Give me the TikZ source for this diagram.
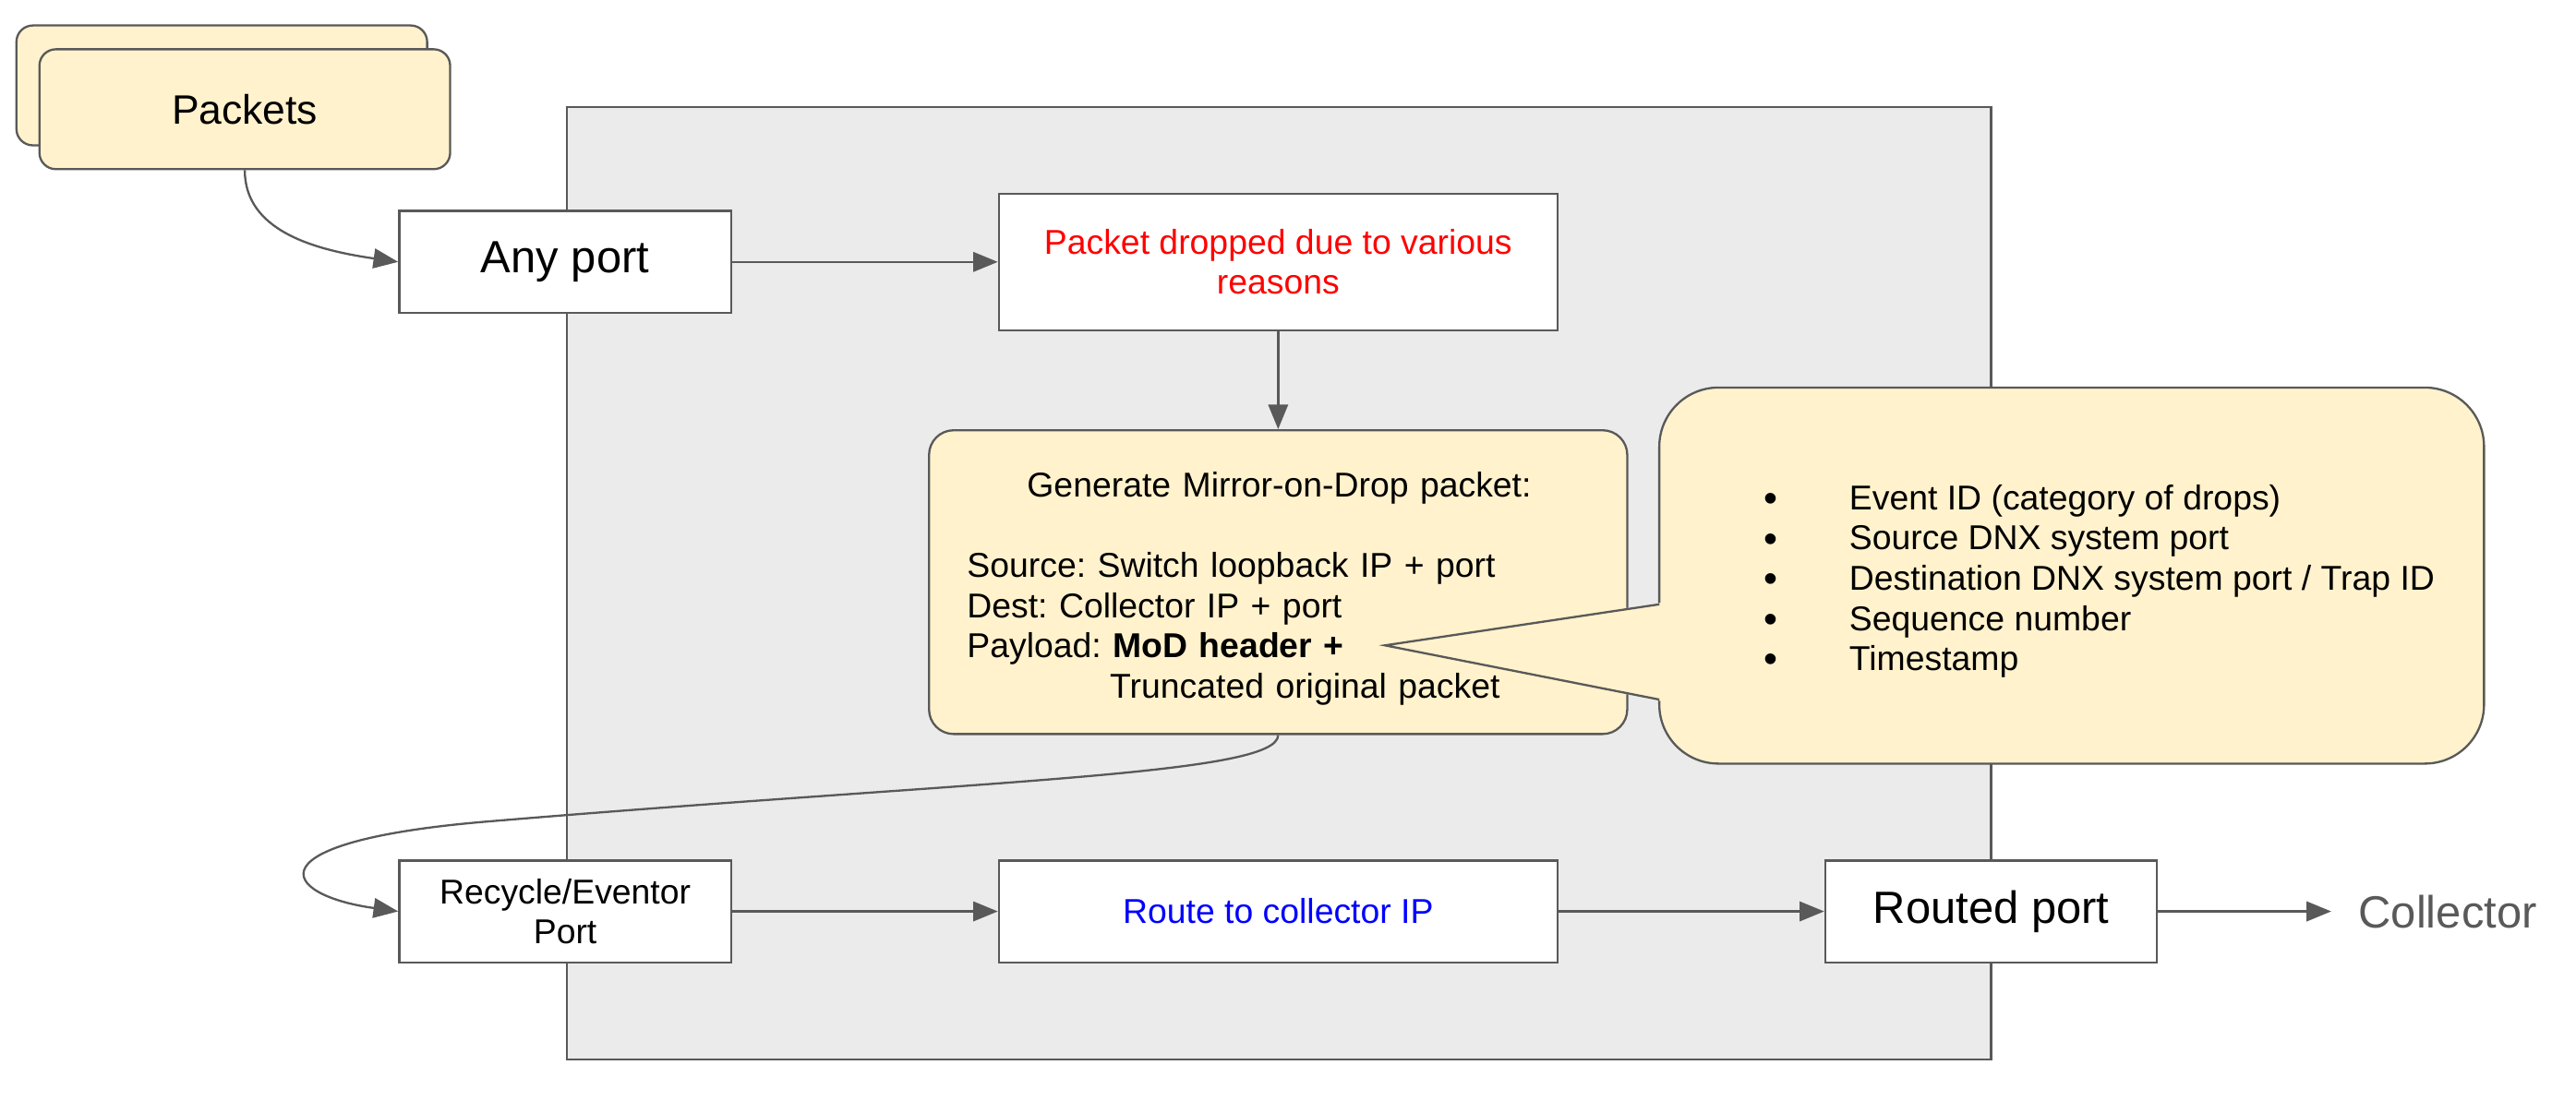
\documentclass[tikz,border=0pt]{standalone}
\usepackage{fontspec}
\setmainfont{Liberation Sans}
\frenchspacing
\usetikzlibrary{arrows.meta}
\definecolor{linegray}{HTML}{595959}
\definecolor{boxyellow}{HTML}{FFF2CC}
\definecolor{areagray}{HTML}{EBEBEB}
\newcommand{\fieldbullet}{\makebox[52pt][l]{\raisebox{-1.2pt}{\fontsize{24}{24}\selectfont •}}}
\tikzset{
  flowarrow/.style={draw=linegray,-{Triangle[length=15pt,width=12pt]}},
  bigfont/.style={font=\fontsize{27.5}{32}\selectfont},
  smallfont/.style={font=\fontsize{21}{24.5}\selectfont}
}
\begin{document}
\begin{tikzpicture}[x=1pt,y=-1pt,line width=1.3pt]
        \useasboundingbox (0,0) rectangle (1568,670);

        \filldraw[fill=areagray,draw=linegray] (345,65) rectangle (1212,645);

        \begin{scope}[every node/.style={draw=linegray,fill=boxyellow,rounded corners=10pt,
            minimum width=250pt,minimum height=73pt,font=\fontsize{25}{29}\selectfont}]
          \node (pktback) at (135,52)   {};
          \node (pkt)     at (149,66.5) {Packets};
        \end{scope}

        \begin{scope}[every node/.style={draw=linegray,fill=white,minimum height=62pt,align=center,smallfont}]
          \node[minimum width=202pt,bigfont]           (any)     at (344,159.5)  {Any port};
          \node[minimum width=340pt,minimum height=83pt,text=red]
                                                       (drop)    at (778,159.5)  {Packet dropped due to various\\reasons};
          \node[minimum width=202pt]                   (recycle) at (344,555)    {Recycle/Eventor\\Port};
          \node[minimum width=340pt,text=blue]         (route)   at (778,555)    {Route to collector IP};
          \node[minimum width=202pt,bigfont]           (routed)  at (1212,555)   {Routed port};
        \end{scope}

        \node[draw=linegray,fill=boxyellow,rounded corners=15pt,minimum width=425pt,minimum height=185pt]
          (mod) at (778,354.5) {};
        \node[anchor=west,align=left,text width=380pt,inner sep=0pt,smallfont] (modtext) at (588,358.5)
          {\makebox[380pt][c]{Generate Mirror-on-Drop packet:}\\[24.5pt]
           Source: Switch loopback IP + port\\
           Dest: Collector IP + port\\
           Payload: \textbf{MoD header +}\\
           \hspace*{87pt}Truncated original packet};

        % callout with the header fields
        \draw[fill=boxyellow,draw=linegray,rounded corners=36pt] (1010,236) rectangle (1512,465);
        \fill[boxyellow] (1011.5,367) -- (843,393) -- (1011.5,427) -- cycle;
        \draw[linegray] (1010,368) -- (843,393) -- (1010,426);
        \node[anchor=west,align=left,inner sep=0pt,smallfont] (fields) at (1073,354)
          {\fieldbullet Event ID (category of drops)\\
           \fieldbullet Source DNX system port\\
           \fieldbullet Destination DNX system port / Trap ID\\
           \fieldbullet Sequence number\\
           \fieldbullet Timestamp};

        \node[anchor=west,inner xsep=16pt,text=linegray,bigfont] (coll) at (1419,555) {Collector};

        \begin{scope}[every edge/.style={flowarrow}]
          \path (any)    edge (drop);
          \path (drop)   edge (mod);
          \path (recycle) edge (route);
          \path (route)  edge (routed);
          \path (routed) edge (coll);
        \end{scope}
        \draw[flowarrow] (pkt.south) .. controls (149,140) and (190,152) .. (any.west);
        \draw[flowarrow] (mod.south) .. controls (778,472) and (600,475) .. (300,500)
                                     .. controls (150,512) and (170,545) .. (recycle.west);

      \end{tikzpicture}
\end{document}
